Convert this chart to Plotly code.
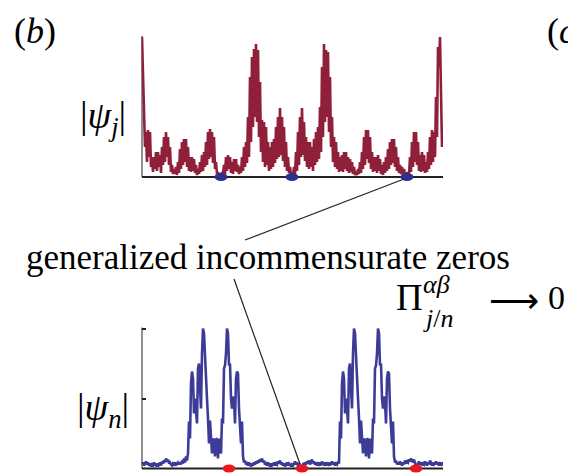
import plotly.graph_objects as go

# ---------------- data ----------------
psi_j = [
    140, 110, 60, 30, 45, 15, 47, 20, 45, 10,
    20, 5, 20, 8, 25, 6, 25, 10, 22, 4,
    30, 12, 40, 15, 45, 20, 40, 12, 30, 5,
    12, 3, 8, 3, 10, 2, 15, 4, 28, 8,
    35, 12, 38, 15, 38, 10, 30, 6, 20, 5,
    20, 6, 18, 4, 12, 2, 8, 3, 15, 5,
    22, 6, 25, 10, 35, 12, 45, 18, 48, 20,
    45, 14, 40, 8, 15, 3, 5, 1, 2, 1,
    5, 2, 12, 3, 20, 6, 22, 8, 20, 4,
    15, 3, 18, 6, 18, 5, 12, 3, 10, 4,
    20, 6, 30, 10, 35, 14, 60, 20, 100, 35,
    120, 50, 128, 60, 133, 55, 127, 40, 95, 25,
    57, 15, 55, 10, 50, 12, 35, 6, 30, 8,
    35, 10, 38, 14, 50, 18, 60, 20, 69, 22,
    60, 16, 50, 10, 35, 6, 20, 4, 10, 2,
    3, 1, 10, 3, 25, 6, 45, 12, 60, 20,
    69, 22, 55, 16, 40, 10, 35, 8, 35, 10,
    30, 6, 38, 12, 45, 15, 50, 18, 70, 25,
    110, 40, 133, 55, 127, 60, 125, 45, 100, 30,
    60, 15, 40, 10, 35, 8, 25, 5, 20, 6,
    22, 5, 25, 8, 25, 6, 20, 4, 18, 5,
    15, 3, 10, 2, 5, 2, 8, 3, 15, 4,
    25, 8, 40, 12, 47, 18, 47, 14, 40, 8,
    25, 5, 20, 6, 20, 4, 22, 6, 18, 3,
    12, 2, 15, 4, 20, 6, 28, 8, 35, 12,
    38, 14, 38, 10, 30, 6, 20, 4, 12, 3,
    10, 2, 8, 2, 3, 1, 5, 2, 20, 5,
    35, 10, 45, 15, 45, 12, 35, 6, 22, 5,
    25, 6, 22, 4, 15, 5, 25, 8, 40, 12,
    47, 15, 45, 20, 80, 40, 130, 110, 140, 90,
    30,
]

psi_n = [
    4, 6, 3, 5, 7, 4, 6, 3, 5, 2,
    4, 3, 6, 4, 3, 5, 2, 4, 6, 3,
    7, 5, 8, 6, 10, 7, 9, 5, 6, 4,
    3, 5, 4, 6, 3, 5, 6, 4,
    6, 4, 8, 5, 10, 6, 12, 8, 15, 47,
    30, 85, 97, 90, 55, 70, 60, 45, 100, 105,
    80, 60, 115, 140, 135, 107, 100, 70, 50, 25,
    48, 30, 15, 30, 28, 12, 30, 29, 10, 30,
    25, 15, 50, 45, 100, 103, 115, 140, 135, 103,
    105, 70, 60, 72, 68, 45, 90, 97, 95, 60,
    47, 25, 47, 12, 6, 8, 4,
    5, 3, 6, 4, 2, 5, 3, 6, 4, 7,
    5, 8, 6, 9, 7, 10, 6, 8, 4, 5,
    3, 6, 4, 2, 5, 3, 4, 6, 3, 5,
    4, 7, 5, 8, 4, 6, 3, 5, 2, 4,
    6, 3, 5, 4, 2, 4, 3, 5, 7, 4,
    6, 3, 5, 2, 1, 2, 4, 3, 6, 4,
    7, 5, 8, 4, 6, 9, 5, 7, 4, 6,
    3, 5, 4, 6, 3, 7, 5, 4, 6, 3,
    5, 4, 6, 3, 5, 7, 4, 6, 3, 5,
    4, 6, 5,
    47, 30, 85, 97, 90, 55, 70, 60, 45, 100,
    105, 80, 60, 115, 140, 135, 107, 100, 70, 50,
    25, 48, 30, 15, 30, 28, 12, 30, 29, 10,
    30, 25, 15, 50, 45, 100, 103, 115, 140, 135,
    103, 105, 70, 60, 72, 68, 45, 90, 97, 95,
    60, 47, 25, 47, 12, 6, 8, 4,
    6, 4, 7, 5, 3, 6, 4, 8, 5, 7,
    6, 9, 7, 10, 8, 6, 9, 4, 2, 3,
    5, 7, 4, 6, 3, 5, 4, 7, 5, 3,
    6, 4, 8, 5, 3, 6, 4, 5, 7, 4,
    6, 3, 5, 4, 6, 3,
]

zeros_j = [79, 150, 265]
zeros_n = [87, 160, 274]

sites_j = list(range(len(psi_j)))
sites_n = list(range(len(psi_n)))

W, H = 568, 473
def px(x):
    return x / W
def py(y):
    return 1 - y / H

RED_LINE = "#90203a"
BLUE_LINE = "#3c3c98"
BLUE_DOT = "#2b3190"
RED_DOT = "#ec1620"
SERIF = "Liberation Serif"

fig = go.Figure()
fig.add_trace(go.Scatter(x=sites_j, y=psi_j, mode="lines",
                         line=dict(color=RED_LINE, width=2.6),
                         xaxis="x", yaxis="y", showlegend=False, hoverinfo="skip"))
fig.add_trace(go.Scatter(x=sites_n, y=psi_n, mode="lines",
                         line=dict(color=BLUE_LINE, width=2.6),
                         xaxis="x2", yaxis="y2", showlegend=False, hoverinfo="skip"))

shapes = []
for xr, yr in (("x", "y"), ("x2", "y2")):
    shapes.append(dict(type="line", xref=xr, yref=yr, x0=0, x1=301, y0=0, y1=0,
                       line=dict(color="#222222", width=2.2), layer="below"))
    shapes.append(dict(type="line", xref=xr, yref=yr, x0=-0.5, x1=-0.5, y0=0, y1=141,
                       line=dict(color="#222222", width=2), layer="below"))
for z in zeros_j:
    shapes.append(dict(type="circle", xref="x", yref="y", x0=z - 6.5, x1=z + 6.5,
                       y0=-4, y1=4, fillcolor=BLUE_DOT, line=dict(width=0), layer="above"))
for z in zeros_n:
    shapes.append(dict(type="circle", xref="x2", yref="y2", x0=z - 6.5, x1=z + 6.5,
                       y0=-4, y1=4, fillcolor=RED_DOT, line=dict(width=0), layer="above"))
shapes.append(dict(type="line", xref="paper", yref="paper",
                   x0=px(245), y0=py(240), x1=px(404), y1=py(179),
                   line=dict(color="#222222", width=1.2)))
shapes.append(dict(type="line", xref="paper", yref="paper",
                   x0=px(234), y0=py(279), x1=px(300), y1=py(464),
                   line=dict(color="#222222", width=1.2)))

def ann(text, x, y, size, xanchor="center", yanchor="middle"):
    return dict(text=text, x=px(x), y=py(y), xref="paper", yref="paper",
                showarrow=False, xanchor=xanchor, yanchor=yanchor,
                font=dict(family=SERIF, size=size, color="black"))

annotations = [
    ann("(<i>b</i>)", 35, 31, 36),
    ann("(<i>c</i>)", 545, 31, 36, xanchor="left"),
    ann("|<i>ψ</i><sub><i>j</i></sub>|", 103, 118, 38),
    ann("|<i>ψ</i><sub><i>n</i></sub>|", 103, 410, 38),
    ann("generalized incommensurate zeros", 268, 257, 35),
    ann("Π", 409, 297, 37),
    ann("<i>αβ</i>", 421, 284, 26, xanchor="left"),
    ann("<i>j</i>/<i>n</i>", 421, 318, 26, xanchor="left"),
    ann("⟶", 514, 301, 35),
    ann("0", 556, 297, 34),
]

axis_common = dict(showgrid=False, zeroline=False, showline=False,
                   showticklabels=False, ticks="")

fig.update_layout(
    width=W, height=H,
    margin=dict(l=0, r=0, t=0, b=0),
    paper_bgcolor="white", plot_bgcolor="white",
    xaxis=dict(domain=[141.5 / W, 443 / W], range=[-0.5, 301], anchor="y", **axis_common),
    yaxis=dict(domain=[py(182), py(35)], range=[-5, 142], anchor="x", **axis_common),
    xaxis2=dict(domain=[141.5 / W, 443 / W], range=[-0.5, 301], anchor="y2", **axis_common),
    yaxis2=dict(domain=[0, py(326.5)], range=[-4.5, 142], anchor="x2",
                showgrid=False, zeroline=False, showline=False, showticklabels=False,
                ticks="inside", tickvals=[70, 140], ticklen=4, tickwidth=1.5,
                tickcolor="#222222"),
    shapes=shapes,
    annotations=annotations,
)

fig.write_html("out.html")
